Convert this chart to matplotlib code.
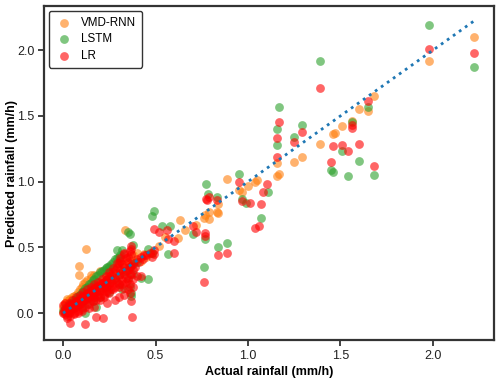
import matplotlib
matplotlib.use("Agg")
import matplotlib.pyplot as plt

plt.rcParams['font.family'] = ['Liberation Sans', 'DejaVu Sans']

# ---------------- data (actual, predicted) ----------------
vmd_actual = [2.22, 1.98, 1.68, 1.65, 1.60, 1.56, 1.51, 1.46, 1.47, 1.39, 1.29, 1.25, 1.155, 1.155, 1.17,
              1.05, 1.04, 1.00, 0.97, 0.95, 0.885, 0.84, 0.83, 0.79, 0.77, 0.76, 0.79, 0.84, 0.72, 0.63,
              0.55, 0.52, 0.335, 0.124, 0.086, 0.085, 0.42, 0.45, 0.48, 0.62, 0.66,
              0.0, 0.0, 0.005, 0.01, 0.01, 0.015, 0.02, 0.02, 0.03, 0.03, 0.04, 0.04, 0.05, 0.05, 0.06,
              0.06, 0.07, 0.08, 0.08, 0.09, 0.10, 0.10, 0.11, 0.12, 0.12, 0.13, 0.14, 0.15, 0.16, 0.17,
              0.18, 0.20, 0.20, 0.22, 0.24, 0.25, 0.26, 0.28, 0.30, 0.32, 0.34, 0.36, 0.38, 0.40, 0.44,
              0.02, 0.15, 0.37, 0.39]
vmd_pred = [2.10, 1.92, 1.65, 1.54, 1.55, 1.46, 1.42, 1.36, 1.37, 1.29, 1.19, 1.15, 1.14, 1.04, 1.06,
            1.01, 1.00, 0.965, 0.92, 0.94, 1.02, 0.83, 0.77, 0.77, 0.75, 0.72, 0.715, 0.76, 0.67, 0.71,
            0.58, 0.51, 0.63, 0.49, 0.36, 0.29, 0.40, 0.43, 0.46, 0.57, 0.63,
            0.01, 0.04, 0.06, 0.08, 0.02, 0.05, 0.09, 0.03, 0.10, 0.04, 0.11, 0.05, 0.12, 0.06, 0.13,
            0.08, 0.14, 0.16, 0.10, 0.18, 0.20, 0.12, 0.22, 0.24, 0.14, 0.25, 0.16, 0.27, 0.19, 0.29,
            0.21, 0.32, 0.23, 0.26, 0.28, 0.34, 0.30, 0.33, 0.35, 0.38, 0.40, 0.42, 0.44, 0.46, 0.45,
            0.11, 0.29, 0.38, 0.40]

lstm_actual = [2.22, 1.98, 1.39, 1.17, 1.65, 1.56, 1.51, 1.60, 1.45, 1.46, 1.54, 1.68, 1.29, 1.25, 1.155,
               1.155, 1.11, 1.07, 0.95, 0.775, 0.785, 0.83, 0.965, 0.99, 0.77, 0.885, 0.84, 0.76, 0.70,
               0.49, 0.48, 0.535, 0.58, 0.57, 0.35, 0.36, 0.32, 0.38, 0.29, 0.46, 0.48, 0.46, 0.42,
               0.37, 0.37, 0.12, 0.18,
               0.0, 0.01, 0.02, 0.03, 0.04, 0.05, 0.06, 0.07, 0.08, 0.09, 0.10, 0.11, 0.12, 0.13, 0.14,
               0.15, 0.16, 0.17, 0.18, 0.19, 0.20, 0.21, 0.22, 0.23, 0.24, 0.25, 0.26, 0.27, 0.28, 0.29,
               0.30, 0.31,
               0.02, 0.04, 0.06, 0.08, 0.10, 0.12, 0.14, 0.16, 0.18, 0.20, 0.22, 0.24, 0.26, 0.28, 0.30,
               0.32, 0.34, 0.36, 0.38, 0.40,
               0.10, 0.13, 0.16, 0.20, 0.25, 0.30, 0.35, 0.38, 0.36, 0.32]
lstm_pred = [1.87, 2.19, 1.92, 1.57, 1.57, 1.45, 1.23, 1.16, 1.09, 1.07, 1.04, 1.05, 1.43, 1.34, 1.40,
             1.28, 0.92, 0.72, 1.06, 0.98, 0.905, 0.88, 0.87, 0.84, 0.56, 0.53, 0.50, 0.35, 0.60,
             0.775, 0.74, 0.66, 0.66, 0.45, 0.62, 0.60, 0.48, 0.52, 0.48, 0.49, 0.46, 0.26, 0.27,
             0.13, 0.15, 0.0, 0.05,
             0.02, 0.04, 0.05, 0.06, 0.07, 0.08, 0.10, 0.11, 0.13, 0.14, 0.16, 0.17, 0.19, 0.20, 0.22,
             0.23, 0.25, 0.26, 0.28, 0.29, 0.31, 0.32, 0.33, 0.34, 0.35, 0.36, 0.37, 0.39, 0.41, 0.42,
             0.43, 0.44,
             0.01, 0.03, 0.05, 0.07, 0.09, 0.11, 0.13, 0.15, 0.17, 0.19, 0.21, 0.23, 0.25, 0.27, 0.29,
             0.31, 0.33, 0.35, 0.37, 0.39,
             0.05, 0.07, 0.09, 0.12, 0.16, 0.22, 0.27, 0.30, 0.20, 0.18]

lr_actual = [2.22, 1.98, 1.39, 1.17, 1.65, 1.56, 1.56, 1.46, 1.51, 1.54, 1.60, 1.45, 1.68, 1.29, 1.25,
             1.155, 1.155, 1.10, 1.08, 1.07, 1.04, 1.06, 1.01, 0.95, 0.965, 0.775, 0.79, 0.83, 0.78,
             0.77, 0.77, 0.84, 0.885, 0.76, 0.70, 0.72, 0.57, 0.60, 0.60, 0.52, 0.49, 0.56, 0.49,
             0.49, 0.48, 0.366, 0.37, 0.33, 0.37, 0.36, 0.40, 0.42, 0.038, 0.12, 0.177, 0.218, 0.375,
             0.37,
             0.0, 0.005, 0.01, 0.01, 0.015, 0.02, 0.02, 0.025, 0.03, 0.03, 0.035, 0.04, 0.04, 0.045,
             0.05, 0.05, 0.055, 0.06, 0.06, 0.065, 0.07, 0.07, 0.075, 0.08, 0.08, 0.085, 0.09, 0.09,
             0.095, 0.10, 0.10, 0.105, 0.11, 0.11, 0.115, 0.12, 0.12, 0.125, 0.13, 0.13, 0.135, 0.14,
             0.14, 0.145, 0.15, 0.15, 0.155, 0.16, 0.16, 0.17, 0.17, 0.18, 0.18, 0.19, 0.19, 0.20,
             0.20, 0.21, 0.21, 0.22, 0.22, 0.23, 0.23, 0.24, 0.24, 0.25, 0.25, 0.26, 0.26, 0.27, 0.27,
             0.28, 0.28, 0.29, 0.30, 0.30, 0.31, 0.31, 0.32, 0.33, 0.34, 0.34, 0.35, 0.36, 0.36, 0.38,
             0.38, 0.40, 0.42, 0.44,
             0.20, 0.22, 0.25, 0.27, 0.30, 0.32, 0.34, 0.35, 0.33, 0.30, 0.28, 0.36, 0.38, 0.24, 0.17,
             0.14, 0.10, 0.08, 0.06,
             0.02, 0.04, 0.06, 0.08, 0.10, 0.12, 0.14, 0.16, 0.18, 0.20, 0.22, 0.24, 0.26, 0.28, 0.30,
             0.32, 0.34,
             0.03, 0.05, 0.07, 0.09, 0.11, 0.13, 0.15, 0.17, 0.19, 0.21, 0.23, 0.25, 0.27, 0.29, 0.31,
             0.33, 0.35,
             0.15, 0.17, 0.19, 0.23, 0.26, 0.29, 0.31, 0.33, 0.35, 0.37, 0.39, 0.41, 0.43, 0.45, 0.47,
             0.35, 0.37, 0.38, 0.36, 0.33, 0.0, 0.01]
lr_pred = [1.98, 2.01, 1.71, 1.45, 1.61, 1.43, 1.41, 1.27, 1.28, 1.23, 1.29, 1.15, 1.12, 1.38, 1.30,
           1.33, 1.19, 0.98, 0.92, 0.83, 0.65, 0.66, 0.84, 1.00, 0.855, 0.865, 0.88, 0.86, 0.86,
           0.61, 0.59, 0.44, 0.46, 0.235, 0.66, 0.62, 0.56, 0.55, 0.46, 0.62, 0.64, 0.63, 0.45,
           0.48, 0.43, 0.51, 0.49, 0.455, 0.45, 0.47, 0.28, 0.28, -0.075, -0.085, -0.03, -0.04, -0.03,
           0.09,
           0.0, 0.02, -0.01, 0.03, 0.01, 0.04, -0.02, 0.02, 0.05, 0.0, 0.03, 0.06, 0.01, 0.04,
           0.07, 0.03, 0.05, 0.08, 0.04, 0.06, 0.09, 0.05, 0.07, 0.10, 0.06, 0.08, 0.11, 0.07,
           0.09, 0.12, 0.08, 0.10, 0.13, 0.09, 0.11, 0.14, 0.10, 0.12, 0.15, 0.11, 0.13, 0.16,
           0.12, 0.14, 0.17, 0.13, 0.15, 0.18, 0.14, 0.19, 0.15, 0.20, 0.16, 0.21, 0.17, 0.22,
           0.17, 0.23, 0.18, 0.24, 0.19, 0.25, 0.20, 0.26, 0.21, 0.28, 0.22, 0.29, 0.24, 0.31, 0.25,
           0.33, 0.26, 0.35, 0.38, 0.28, 0.40, 0.30, 0.37, 0.35, 0.42, 0.32, 0.39, 0.30, 0.36, 0.38,
           0.33, 0.41, 0.43, 0.44,
           0.10, 0.12, 0.15, 0.18, 0.20, 0.22, 0.24, 0.18, 0.14, 0.12, 0.10, 0.22, 0.26, 0.08, 0.05,
           0.04, 0.02, 0.0, -0.01,
           -0.04, -0.02, 0.0, 0.02, 0.03, 0.05, 0.07, 0.09, 0.10, 0.12, 0.14, 0.16, 0.18, 0.20, 0.22,
           0.25, 0.27,
           0.08, 0.10, 0.12, 0.14, 0.16, 0.18, 0.20, 0.22, 0.24, 0.26, 0.28, 0.31, 0.34, 0.38, 0.42,
           0.45, 0.43,
           0.10, 0.12, 0.14, 0.17, 0.21, 0.24, 0.33, 0.30, 0.33, 0.36, 0.35, 0.39, 0.41, 0.44, 0.46,
           0.25, 0.30, 0.20, 0.15, 0.19, 0.06, 0.08]

line_range = [0.0, 2.22]
series_labels = ["VMD-RNN", "LSTM", "LR"]
series_colors = ["#ff7f0e", "#2ca02c", "red"]

# ---------------- plot ----------------
fig = plt.figure(figsize=(5.0, 3.8), dpi=100)
ax = fig.add_axes([0.088, 0.105, 0.9, 0.879])

for xs, ys, lab, col in zip([vmd_actual, lstm_actual, lr_actual],
                            [vmd_pred, lstm_pred, lr_pred],
                            series_labels, series_colors):
    ax.scatter(xs, ys, s=40, color=col, alpha=0.6, linewidths=0, label=lab)

ax.plot(line_range, line_range, linestyle=':', color='#1f77b4', linewidth=2)

ax.set_xlim(-0.103, 2.33)
ax.set_ylim(-0.205, 2.335)
ax.set_xticks([0.0, 0.5, 1.0, 1.5, 2.0])
ax.set_yticks([0.0, 0.5, 1.0, 1.5, 2.0])
ax.set_xlabel("Actual rainfall (mm/h)", fontsize=9, fontweight='bold', labelpad=3)
ax.set_ylabel("Predicted rainfall (mm/h)", fontsize=9, fontweight='bold')
ax.yaxis.set_label_coords(-0.058, 0.5)
ax.tick_params(axis='both', labelsize=9, direction='out', length=4, width=1.2,
               colors='#222222', labelcolor='#222222', pad=3)
for sp in ax.spines.values():
    sp.set_linewidth(1.6)
    sp.set_color('#333333')

leg = ax.legend(loc='upper left', fontsize=8.4, frameon=True, fancybox=True,
                borderpad=0.5, handletextpad=0.7, labelspacing=0.4, borderaxespad=0.4,
                handlelength=1.6)
leg.get_frame().set_edgecolor('#333333')
leg.get_frame().set_linewidth(1.0)
leg.get_frame().set_alpha(1.0)

fig.savefig("out.png", dpi=100)
